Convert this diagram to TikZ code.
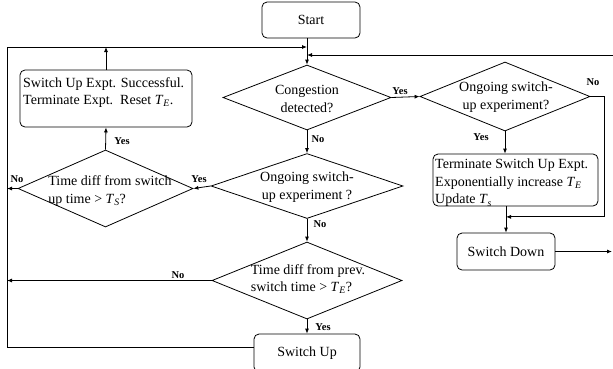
\documentclass[tikz,border=0pt]{standalone}
\usepackage{fontspec}
\setmainfont{Liberation Serif}
\usetikzlibrary{shapes,arrows.meta,positioning,calc}

\newcommand{\tvar}[1]{\textit{T}\textsubscript{\textit{#1}}}

\tikzset{
    flow/.style={line width=0.8pt, -{Latex[length=5pt,width=4pt]}},
    procbox/.style={draw, line width=0.8pt, rounded corners=5pt, inner sep=0pt},
    decision/.style={draw, diamond, line width=0.8pt, inner sep=0pt},
    btext/.style={font=\fontsize{14}{17.5}\selectfont, inner sep=0pt},
    ans/.style={font=\fontsize{10.5}{12}\selectfont\bfseries, inner sep=0pt}
}

\begin{document}
\begin{tikzpicture}[x=1pt, y=-1pt]
    \clip (0,0) rectangle (613,368);

    % Start and congestion test
    \node[procbox, btext, minimum width=98pt, minimum height=36pt] (start) at (311,20) {Start};
    \node[decision, minimum width=168pt, minimum height=65pt] (cong) at (307,97.5) {};
    \node[btext, align=center] (congtxt) at (307,99) {Congestion\\detected?};
    \draw[flow] (start.south -| cong.north) -- (cong.north);

    % Congested branch
    \node[decision, minimum width=170pt, minimum height=69pt] (onup) at (505,96.5) {};
    \node[btext, align=center] (onuptxt) at (506,97) {Ongoing switch-\\up experiment?};
    \node[procbox, minimum width=165pt, minimum height=52pt] (term) at (515.5,180) {};
    \node[btext, align=left, anchor=north west] (termtxt) at (435,159) {Terminate Switch Up Expt.\\Exponentially increase \tvar{E}\\Update \tvar{s}};
    \node[procbox, btext, minimum width=98pt, minimum height=37pt] (sdown) at (506,251.5) {Switch Down};
    \coordinate (rout) at (612,251.5);
    \coordinate (rin) at (613,55);

    \draw[flow] (cong.east) -- (onup.west);
    \node[ans] (yes1) at (400,91) {Yes};
    \draw[flow] (onup.south) -- (onup.south |- term.north);
    \node[ans] (yes2) at (481,137) {Yes};
    \draw[flow] (onup.east) -- ++(14,0) |- ($(term.south -| sdown.north)!0.4!(sdown.north)$);
    \node[ans] (no1) at (593,82) {No};
    \draw[flow] (term.south -| sdown.north) -- (sdown.north);
    \draw[flow] (sdown.east) -- (rout);
    \draw[flow] (rin) -- (rin -| cong.north);

    % Not congested branch
    \node[decision, minimum width=192pt, minimum height=65pt] (ondn) at (307,186) {};
    \node[btext, align=center] (ondntxt) at (307,187) {Ongoing switch-\\up experiment ?};
    \node[decision, minimum width=175pt, minimum height=77pt] (tsw) at (105.5,188.5) {};
    \node[btext, align=left] (tswtxt) at (110,191) {Time diff from switch\\up time > \tvar{S}?};
    \node[procbox, minimum width=172pt, minimum height=57pt] (succ) at (106,98.5) {};
    \node[btext, align=left, anchor=north west] (succtxt) at (23,77) {Switch Up Expt. Successful.\\Terminate Expt.\ \ Reset \tvar{E}.};
    \node[decision, minimum width=190pt, minimum height=77pt] (tprev) at (307,280.5) {};
    \node[btext, align=left] (tprevtxt) at (308,279) {Time diff from prev.\\switch time > \tvar{E}?};
    \node[procbox, btext, minimum width=106pt, minimum height=38pt] (sup) at (307,353) {Switch Up};

    \draw[flow] (cong.south) -- (ondn.north);
    \node[ans] (no2) at (318,139) {No};
    \draw[flow] (ondn.west) -- (tsw.east);
    \node[ans] (yes3) at (199,179) {Yes};
    \draw[flow] (tsw.north) -- (succ.south);
    \node[ans] (yes4) at (122,141) {Yes};
    \draw[flow] (ondn.south) -- (tprev.north);
    \node[ans] (no3) at (320,224) {No};
    \draw[flow] (tprev.south) -- (sup.north);
    \node[ans] (yes5) at (323,327) {Yes};

    % Loop back to the top
    \coordinate (ltop) at (7,47);
    \coordinate (lbot) at (7,347);
    \draw[flow] (sup.west |- lbot) -- (lbot) -- (ltop) -- (ltop -| cong.north);
    \draw[flow] (succ.north) -- (succ.north |- ltop);
    \draw[flow] (tsw.west) -- (tsw.west -| ltop);
    \node[ans] (no4) at (17,179) {No};
    \draw[flow] (tprev.west) -- (tprev.west -| ltop);
    \node[ans] (no5) at (178,275) {No};
\end{tikzpicture}
\end{document}
